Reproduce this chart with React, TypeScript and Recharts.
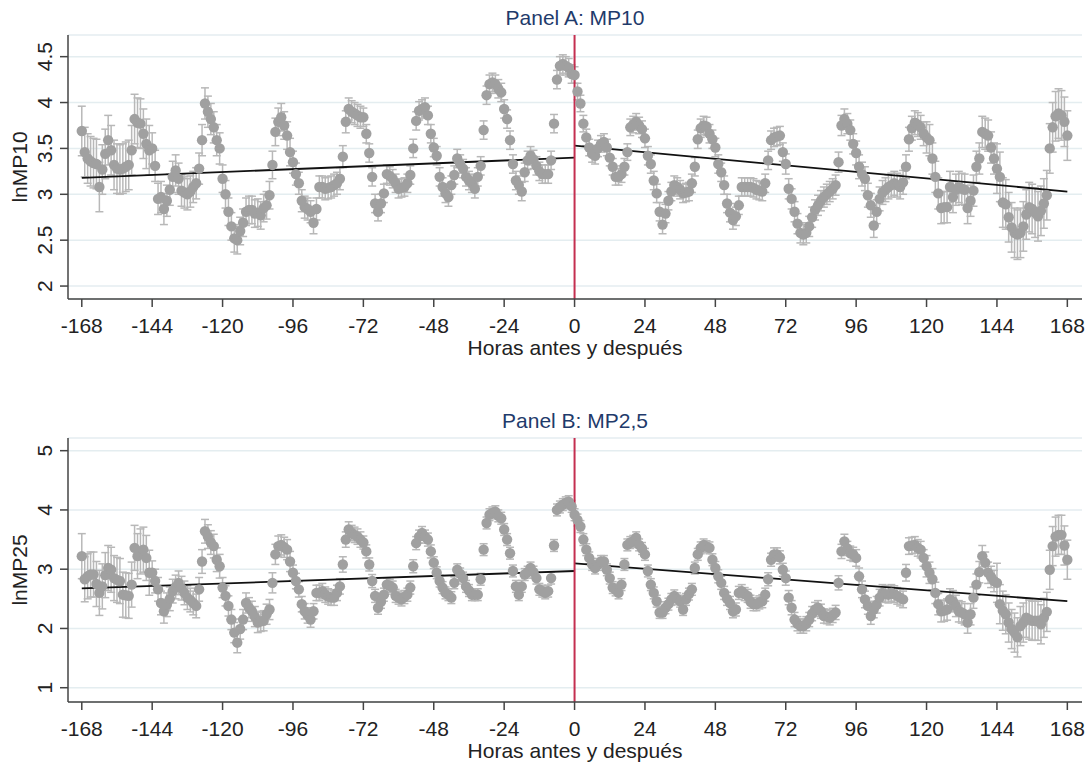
import React from "react";
import {
  ComposedChart,
  Scatter,
  ErrorBar,
  Line,
  XAxis,
  YAxis,
  CartesianGrid,
  ReferenceLine,
} from "recharts";

// hours -168 .. 168, one estimate per hour
const hourTicks = [-168, -144, -120, -96, -72, -48, -24, 0, 24, 48, 72, 96, 120, 144, 168];

const lnMP10 = [
  3.69, 3.46, 3.39, 3.36, 3.34, 3.33, 3.08, 3.27, 3.44, 3.59, 3.48, 3.32, 3.28, 3.27, 3.28, 3.30, 3.32, 3.48, 3.82, 3.78, 3.77, 3.66, 3.55, 3.48,
  3.50, 3.31, 2.95, 2.97, 2.84, 2.93, 3.05, 3.19, 3.26, 3.17, 3.04, 3.02, 3.00, 3.03, 3.08, 3.12, 3.28, 3.59, 3.99, 3.90, 3.82, 3.73, 3.59, 3.50,
  3.17, 3.00, 2.81, 2.65, 2.52, 2.50, 2.60, 2.69, 2.81, 2.83, 2.83, 2.79, 2.80, 2.77, 2.85, 2.88, 2.99, 3.32, 3.68, 3.79, 3.84, 3.75, 3.64, 3.46,
  3.35, 3.22, 3.12, 2.93, 2.86, 2.84, 2.81, 2.69, 2.84, 3.08, 3.08, 3.06, 3.07, 3.08, 3.10, 3.12, 3.17, 3.41, 3.79, 3.93, 3.90, 3.88, 3.86, 3.84,
  3.84, 3.66, 3.45, 3.19, 2.90, 2.81, 2.90, 3.01, 3.22, 3.20, 3.17, 3.12, 3.06, 3.07, 3.08, 3.12, 3.21, 3.50, 3.80, 3.91, 3.93, 3.95, 3.86, 3.66,
  3.51, 3.42, 3.19, 3.08, 3.01, 2.97, 3.10, 3.21, 3.39, 3.33, 3.28, 3.19, 3.15, 3.12, 3.06, 3.19, 3.31, 3.70, 4.08, 4.20, 4.22, 4.20, 4.15, 4.11,
  3.93, 3.82, 3.59, 3.33, 3.15, 3.10, 3.03, 3.24, 3.37, 3.42, 3.38, 3.31, 3.25, 3.22, 3.22, 3.22, 3.37, 3.77, 4.25, 4.40, 4.42, 4.40, 4.38, 4.31,
  4.30, 4.12, 3.99, 3.77, 3.62, 3.51, 3.44, 3.42, 3.50, 3.55, 3.57, 3.51, 3.40, 3.30, 3.19, 3.19, 3.22, 3.30, 3.46, 3.73, 3.76, 3.79, 3.75, 3.71,
  3.61, 3.42, 3.33, 3.15, 3.01, 2.81, 2.67, 2.79, 2.93, 3.03, 3.10, 3.08, 3.05, 3.01, 3.02, 3.03, 3.12, 3.30, 3.60, 3.72, 3.75, 3.74, 3.66, 3.60,
  3.51, 3.33, 3.24, 3.10, 2.90, 2.80, 2.72, 2.76, 2.88, 3.08, 3.08, 3.08, 3.08, 3.07, 3.05, 3.04, 3.03, 3.12, 3.37, 3.59, 3.62, 3.63, 3.64, 3.46,
  3.33, 3.06, 2.95, 2.81, 2.68, 2.58, 2.56, 2.58, 2.65, 2.75, 2.83, 2.88, 2.93, 2.97, 3.00, 3.03, 3.06, 3.10, 3.35, 3.75, 3.82, 3.77, 3.70, 3.55,
  3.45, 3.30, 3.22, 3.17, 2.99, 2.88, 2.66, 2.81, 2.95, 3.02, 3.05, 3.08, 3.10, 3.12, 3.10, 3.08, 3.13, 3.30, 3.60, 3.72, 3.78, 3.76, 3.73, 3.66,
  3.62, 3.59, 3.39, 3.19, 3.01, 2.85, 2.86, 2.86, 3.08, 2.97, 3.05, 3.08, 3.06, 3.05, 2.85, 2.93, 3.04, 3.30, 3.39, 3.68, 3.66, 3.64, 3.51, 3.39,
  3.28, 3.19, 2.91, 2.89, 2.75, 2.64, 2.58, 2.56, 2.58, 2.65, 2.78, 2.86, 2.84, 2.80, 2.76, 2.82, 2.90, 2.99, 3.50, 3.73, 3.85, 3.88, 3.86, 3.79, 3.64,
];

const lnMP25 = [
  3.22, 2.83, 2.88, 2.91, 2.91, 2.75, 2.60, 2.71, 2.90, 3.02, 2.99, 2.85, 2.82, 2.80, 2.57, 2.56, 2.55, 2.74, 3.36, 3.22, 3.30, 3.33, 3.19, 2.94,
  2.94, 2.80, 2.66, 2.43, 2.29, 2.40, 2.50, 2.63, 2.70, 2.77, 2.68, 2.60, 2.52, 2.48, 2.43, 2.38, 2.66, 3.13, 3.64, 3.55, 3.45, 3.39, 3.16, 3.05,
  2.69, 2.55, 2.38, 2.15, 1.93, 1.76, 1.99, 2.15, 2.43, 2.35, 2.29, 2.20, 2.10, 2.12, 2.13, 2.24, 2.32, 2.77, 3.25, 3.39, 3.41, 3.37, 3.33, 3.13,
  2.94, 2.80, 2.66, 2.41, 2.29, 2.22, 2.15, 2.29, 2.60, 2.60, 2.63, 2.57, 2.54, 2.52, 2.52, 2.60, 2.71, 3.08, 3.50, 3.67, 3.61, 3.58, 3.55, 3.50,
  3.45, 3.30, 3.08, 2.80, 2.55, 2.35, 2.45, 2.57, 2.74, 2.72, 2.69, 2.55, 2.52, 2.49, 2.53, 2.57, 2.69, 3.05, 3.44, 3.55, 3.61, 3.55, 3.50, 3.30,
  3.11, 2.94, 2.80, 2.69, 2.60, 2.57, 2.52, 2.77, 2.99, 2.92, 2.85, 2.71, 2.64, 2.57, 2.57, 2.57, 2.83, 3.33, 3.78, 3.92, 3.95, 3.97, 3.90, 3.86,
  3.67, 3.50, 3.27, 2.97, 2.71, 2.57, 2.71, 2.91, 2.95, 3.02, 2.95, 2.85, 2.66, 2.63, 2.60, 2.63, 2.85, 3.40, 4.00, 4.05, 4.09, 4.12, 4.14, 4.06,
  3.92, 3.83, 3.72, 3.50, 3.33, 3.19, 3.08, 3.02, 3.08, 3.13, 3.13, 2.99, 2.85, 2.69, 2.65, 2.60, 2.74, 3.08, 3.41, 3.45, 3.47, 3.53, 3.41, 3.35,
  3.25, 2.97, 2.74, 2.60, 2.46, 2.27, 2.27, 2.35, 2.41, 2.49, 2.55, 2.50, 2.46, 2.32, 2.49, 2.58, 2.66, 3.02, 3.25, 3.36, 3.41, 3.38, 3.36, 3.16,
  3.02, 2.88, 2.77, 2.60, 2.50, 2.43, 2.29, 2.32, 2.60, 2.63, 2.58, 2.55, 2.45, 2.41, 2.41, 2.44, 2.46, 2.57, 2.83, 3.16, 3.25, 3.25, 3.20, 2.99,
  2.85, 2.52, 2.35, 2.15, 2.08, 2.04, 2.04, 2.08, 2.15, 2.25, 2.32, 2.35, 2.29, 2.21, 2.20, 2.18, 2.22, 2.27, 2.77, 3.30, 3.47, 3.35, 3.27, 3.25,
  3.19, 2.88, 2.66, 2.49, 2.38, 2.21, 2.32, 2.40, 2.52, 2.60, 2.58, 2.57, 2.60, 2.58, 2.55, 2.52, 2.49, 2.94, 3.39, 3.40, 3.41, 3.36, 3.33, 3.19,
  3.05, 2.94, 2.83, 2.60, 2.41, 2.29, 2.30, 2.32, 2.49, 2.46, 2.38, 2.29, 2.27, 2.24, 2.10, 2.24, 2.52, 2.74, 2.95, 3.22, 3.11, 2.94, 2.87, 2.80,
  2.77, 2.41, 2.30, 2.24, 2.10, 1.99, 1.93, 1.85, 2.04, 2.10, 2.18, 2.15, 2.13, 2.13, 2.13, 2.07, 2.18, 2.28, 2.99, 3.39, 3.55, 3.58, 3.58, 3.40, 3.16,
];

// half-width of the 95% interval, one value per 24-hour block
const errMP10 = [0.27, 0.17, 0.15, 0.12, 0.1, 0.1, 0.1, 0.09, 0.1, 0.1, 0.11, 0.13, 0.17, 0.27];
const errMP25 = [0.38, 0.2, 0.17, 0.13, 0.11, 0.1, 0.1, 0.1, 0.1, 0.11, 0.12, 0.14, 0.18, 0.33];

// linear fits before / after the event
const fitMP10Before = [{ h: -168, v: 3.18 }, { h: 0, v: 3.4 }];
const fitMP10After = [{ h: 0, v: 3.53 }, { h: 168, v: 3.03 }];
const fitMP25Before = [{ h: -168, v: 2.675 }, { h: 0, v: 2.97 }];
const fitMP25After = [{ h: 0, v: 3.1 }, { h: 168, v: 2.46 }];

const FONT = "'Liberation Sans', Arial, sans-serif";

function toPoints(values: number[], errs: number[]) {
  return values.map((v, i) => ({
    h: i - 168,
    v,
    e: errs[Math.min(Math.floor(i / 24), errs.length - 1)],
  }));
}

const YTick = (props: any) => {
  const { x, y, payload } = props;
  const cx = x - 15;
  return (
    <text
      x={cx}
      y={y}
      transform={`rotate(-90 ${cx} ${y})`}
      textAnchor="middle"
      dominantBaseline="central"
      fontSize={21}
      fill="#222"
      fontFamily={FONT}
    >
      {payload.value}
    </text>
  );
};

const XTick = (props: any) => {
  const { x, y, payload } = props;
  return (
    <text
      x={x}
      y={y + 18}
      textAnchor="middle"
      dominantBaseline="central"
      fontSize={21}
      fill="#222"
      fontFamily={FONT}
    >
      {payload.value}
    </text>
  );
};

const Dot = (props: any) => <circle cx={props.cx} cy={props.cy} r={5.2} fill="#a0a0a0" />;

type PanelProps = {
  top: number;
  title: string;
  yLabel: string;
  points: { h: number; v: number; e: number }[];
  fitBefore: { h: number; v: number }[];
  fitAfter: { h: number; v: number }[];
  yDomain: [number, number];
  yTicks: number[];
};

function Panel({ top, title, yLabel, points, fitBefore, fitAfter, yDomain, yTicks }: PanelProps) {
  const axisStyle = { stroke: "#444", strokeWidth: 1.5 };
  return (
    <div style={{ position: "absolute", left: 0, top, width: 1091, height: 360 }}>
      <div style={{ position: "absolute", left: 0, top: 0 }}>
        <ComposedChart width={1091} height={360} margin={{ top: 35, right: 9, bottom: 0, left: 0 }}>
          <CartesianGrid vertical={false} stroke="#e4edf0" strokeWidth={1.5} />
          <XAxis
            type="number"
            dataKey="h"
            domain={[-172.7, 173]}
            allowDataOverflow
            ticks={hourTicks}
            interval={0}
            height={61}
            tickSize={8}
            tickMargin={0}
            axisLine={axisStyle}
            tickLine={axisStyle}
            tick={<XTick />}
          />
          <YAxis
            type="number"
            dataKey="v"
            domain={yDomain}
            allowDataOverflow
            ticks={yTicks}
            interval={0}
            width={68}
            tickSize={8}
            tickMargin={0}
            axisLine={axisStyle}
            tickLine={axisStyle}
            tick={<YTick />}
          />
          <Scatter data={points} dataKey="v" shape={<Dot />} isAnimationActive={false}>
            <ErrorBar
              dataKey="e"
              direction="y"
              width={4}
              stroke="#b8b8b8"
              strokeWidth={1.5}
              isAnimationActive={false}
            />
          </Scatter>
          <Line data={fitBefore} dataKey="v" stroke="#111" strokeWidth={1.8} dot={false} isAnimationActive={false} />
          <Line data={fitAfter} dataKey="v" stroke="#111" strokeWidth={1.8} dot={false} isAnimationActive={false} />
          <ReferenceLine x={0} stroke="#c42f50" strokeWidth={2} />
        </ComposedChart>
      </div>
      <div
        style={{
          position: "absolute",
          left: 575,
          top: 18,
          transform: "translate(-50%, -50%)",
          whiteSpace: "nowrap",
          fontSize: 21,
          color: "#1f3b6b",
        }}
      >
        {title}
      </div>
      <div
        style={{
          position: "absolute",
          left: 20,
          top: 167,
          transform: "translate(-50%, -50%) rotate(-90deg)",
          whiteSpace: "nowrap",
          fontSize: 21,
          color: "#222",
        }}
      >
        {yLabel}
      </div>
      <div
        style={{
          position: "absolute",
          left: 575,
          top: 348,
          transform: "translate(-50%, -50%)",
          whiteSpace: "nowrap",
          fontSize: 21,
          color: "#222",
        }}
      >
        Horas antes y después
      </div>
    </div>
  );
}

export default function App() {
  return (
    <div
      style={{
        position: "absolute",
        left: 0,
        top: 0,
        width: 1091,
        height: 763,
        background: "#fff",
        fontFamily: FONT,
        overflow: "hidden",
      }}
    >
      <Panel
        top={0}
        title="Panel A: MP10"
        yLabel="lnMP10"
        points={toPoints(lnMP10, errMP10)}
        fitBefore={fitMP10Before}
        fitAfter={fitMP10After}
        yDomain={[1.859, 4.736]}
        yTicks={[2, 2.5, 3, 3.5, 4, 4.5]}
      />
      <Panel
        top={403}
        title="Panel B: MP2,5"
        yLabel="lnMP25"
        points={toPoints(lnMP25, errMP25)}
        fitBefore={fitMP25Before}
        fitAfter={fitMP25After}
        yDomain={[0.759, 5.214]}
        yTicks={[1, 2, 3, 4, 5]}
      />
    </div>
  );
}
